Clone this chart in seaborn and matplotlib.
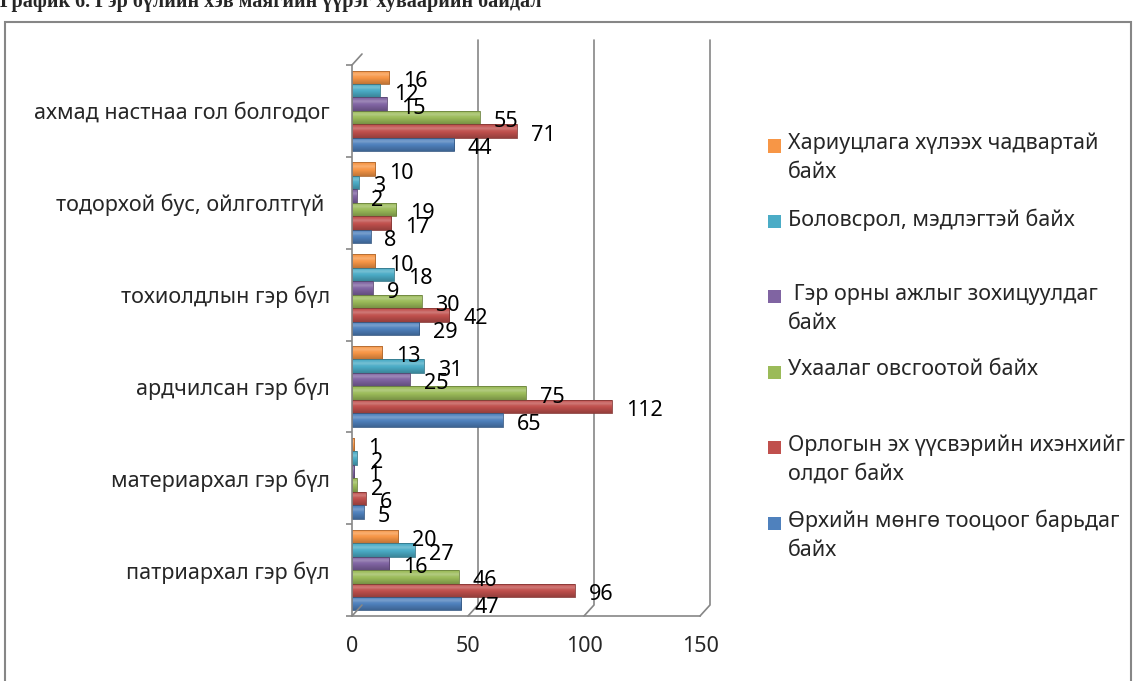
import numpy as np
import pandas as pd
import seaborn as sns
import matplotlib.pyplot as plt
from matplotlib.patches import Rectangle
from matplotlib.colors import to_rgb
from matplotlib.transforms import blended_transform_factory

# categories, top to bottom as in the chart
categories = ["ахмад настнаа гол болгодог", "тодорхой бус, ойлголтгүй ",
              "тохиолдлын гэр бүл", "ардчилсан гэр бүл",
              "материархал гэр бүл", "патриархал гэр бүл"]

# series (legend order, top to bottom)
series_names = ["Хариуцлага хүлээх чадвартай байх",
                "Боловсрол, мэдлэгтэй байх",
                " Гэр орны ажлыг зохицуулдаг байх",
                "Ухаалаг овсгоотой байх",
                "Орлогын эх үүсвэрийн ихэнхийг олдог байх",
                "Өрхийн мөнгө тооцоог барьдаг байх"]
legend_labels = ["Хариуцлага хүлээх чадвартай\nбайх",
                 "Боловсрол, мэдлэгтэй байх",
                 " Гэр орны ажлыг зохицуулдаг\nбайх",
                 "Ухаалаг овсгоотой байх",
                 "Орлогын эх үүсвэрийн ихэнхийг\nолдог байх",
                 "Өрхийн мөнгө тооцоог барьдаг\nбайх"]

responsibility = [16, 10, 10, 13, 1, 20]
education = [12, 3, 18, 31, 2, 27]
housework = [15, 2, 9, 25, 1, 16]
smart = [55, 19, 30, 75, 2, 46]
income = [71, 17, 42, 112, 6, 96]
money = [44, 8, 29, 65, 5, 47]
all_values = [responsibility, education, housework, smart, income, money]

colors = ["#F79646", "#4BACC6", "#8064A2", "#9BBB59", "#C0504D", "#4F81BD"]
x_ticks = [0, 50, 100, 150]

title = "График 6. Гэр бүлийн хэв маягийн үүрэг хуваарийн байдал"

GRAY = "#868686"
W, H = 1136, 681
FS = 15.5


def shade(color, f):
    c = np.array(to_rgb(color))
    if f >= 0:
        return c + (1 - c) * f
    return c * (1 + f)


rows = []
for name, vals in zip(series_names, all_values):
    for cat, v in zip(categories, vals):
        rows.append({"category": cat, "series": name, "value": v})
df = pd.DataFrame(rows)

sns.set_style("white")
plt.rcParams['font.family'] = ['Noto Sans', 'DejaVu Sans']

fig = plt.figure(figsize=(W / 100, H / 100), dpi=100)
ax_left, ax_right, ax_top, ax_bottom = 352, 700, 65, 616
ax = fig.add_axes([ax_left / W, 1 - ax_bottom / H,
                   (ax_right - ax_left) / W, (ax_bottom - ax_top) / H])

sns.barplot(data=df, x="value", y="category", hue="series", order=categories,
            hue_order=series_names, palette=colors, saturation=1, width=0.88,
            legend=False, ax=ax)

# cylinder-like shading for each bar
t = np.linspace(0, 1, 40)
profile = (0.22 * np.exp(-((t - 0.3) / 0.14) ** 2)
           - 0.22 * np.clip((t - 0.55) / 0.45, 0, 1))
for container, vals, col in zip(ax.containers, all_values, colors):
    img = np.array([shade(col, f) for f in profile]).reshape(-1, 1, 3)
    for patch, v in zip(container, vals):
        x0, y0 = patch.get_x(), patch.get_y()
        w, h = patch.get_width(), patch.get_height()
        im = ax.imshow(img, extent=(x0, x0 + w, y0 + h, y0), origin="upper",
                       aspect="auto", zorder=patch.get_zorder() - 0.01)
        im.set_clip_path(patch)
        patch.set_facecolor("none")
        patch.set_edgecolor(shade(col, -0.3))
        patch.set_linewidth(0.6)
        ax.annotate(str(v), (w, y0 + h / 2), xytext=(10, -3),
                    textcoords="offset points", ha="left", va="center",
                    fontsize=FS, color="black")

ax.set_xlim(0, 150)
ax.set_ylim(5.5, -0.5)
ax.set_xticks(x_ticks)
ax.set_xlabel("")
ax.set_ylabel("")
ax.set_yticks(np.arange(-0.5, 6, 1), minor=True)
ax.tick_params(axis="x", length=4.5, color=GRAY, width=1.2, pad=10, labelsize=FS)
ax.tick_params(axis="y", which="major", length=0, pad=16, labelsize=FS)
ax.tick_params(axis="y", which="minor", length=4.5, color=GRAY, width=1.2, left=True)
for s in ["top", "right"]:
    ax.spines[s].set_visible(False)
for s in ["left", "bottom"]:
    ax.spines[s].set_color(GRAY)
    ax.spines[s].set_linewidth(1.2)

# back wall of the 3D frame
trans = blended_transform_factory(ax.transData, ax.transAxes)
dx = 150 * 10 / (ax_right - ax_left)
dy = 11 / (ax_bottom - ax_top)
top_wall = (ax_bottom - 40) / (ax_bottom - ax_top)
for v in x_ticks[1:]:
    ax.plot([v, v + dx, v + dx], [0, dy, top_wall], transform=trans,
            clip_on=False, color=GRAY, lw=1.2, zorder=0.5)
ax.plot([0, dx], [0, dy], transform=trans, clip_on=False, color=GRAY, lw=1.2)
ax.plot([0, dx], [1, 1 + dy], transform=trans, clip_on=False, color=GRAY, lw=1.2)

# legend
for i, (lab, col) in enumerate(zip(legend_labels, colors)):
    yc = 146 + i * 75.4
    fig.patches.append(Rectangle((768 / W, 1 - (yc + 6.5) / H), 13 / W, 13 / H,
                                 transform=fig.transFigure, facecolor=col,
                                 edgecolor="none"))
    fig.text(788 / W, 1 - (yc - 13) / H, lab, ha="left", va="top",
             fontsize=FS, linespacing=1.5)

# outer frame and clipped title
fig.patches.append(Rectangle((5 / W, -0.01), (1131 - 5) / W, 1.01 - 22 / H,
                             transform=fig.transFigure, fill=False,
                             edgecolor=GRAY, lw=1.5))
fig.text(0.0, 1 - 7 / H, title, ha="left", va="baseline", fontsize=14.5,
         fontweight="bold", family="Liberation Serif")

fig.savefig("out.png", dpi=100)
